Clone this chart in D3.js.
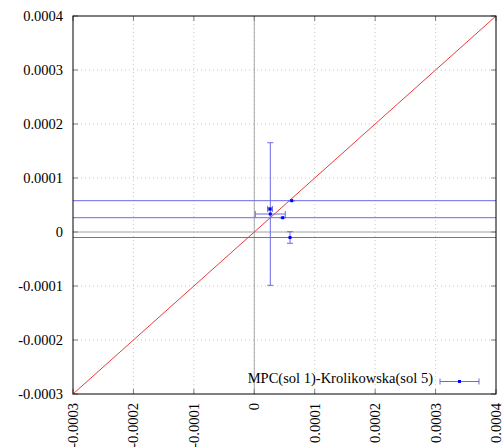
<!DOCTYPE html>
<html>
<head>
<meta charset="utf-8">
<script src="https://cdn.jsdelivr.net/npm/d3@7"></script>
<style>
  body { margin: 0; background: #fff; }
</style>
</head>
<body>
<div id="chart"></div>
<script>
// data
let xVals  = [0.0000619, 0.0000260, 0.0000265, 0.0000470, 0.0000591];
let yVals  = [0.0000580, 0.0000426, 0.0000333, 0.0000265, -0.0000102];
let xErrs  = [0.002, 0.000004, 0.0000248, 0.002, 0.002];
let yErrs  = [0.0000005, 0.000002, 0.000132, 0.0000005, 0.0000107];
let tickVals = [-0.0003, -0.0002, -0.0001, 0, 0.0001, 0.0002, 0.0003, 0.0004];
let tickLabels = ["-0.0003", "-0.0002", "-0.0001", "0", "0.0001", "0.0002", "0.0003", "0.0004"];
let legendLabel = "MPC(sol 1)-Krolikowska(sol 5)";

let width = 503, height = 447;
let plotLeft = 73, plotRight = 496, plotTop = 16, plotBottom = 394;
let fontFam = "'Liberation Serif', 'Times New Roman', Times, serif";
let fontSize = "14.5px";

let svg = d3.select("#chart").append("svg")
            .attr("width", width)
            .attr("height", height)
            .attr("font-family", fontFam);

let x = d3.scaleLinear().domain([-0.0003, 0.0004]).range([plotLeft, plotRight]);
let y = d3.scaleLinear().domain([-0.0003, 0.0004]).range([plotBottom, plotTop]);

svg.append("clipPath").attr("id", "plotClip")
   .append("rect")
   .attr("x", plotLeft).attr("y", plotTop)
   .attr("width", plotRight - plotLeft).attr("height", plotBottom - plotTop);

// dotted grid
let grid = svg.append("g");
grid.selectAll(".gx").data(tickVals.slice(1, -1)).enter().append("line")
    .attr("x1", d => x(d)).attr("x2", d => x(d))
    .attr("y1", plotTop).attr("y2", plotBottom)
    .attr("stroke", "#c8c8c8").attr("stroke-width", 1)
    .attr("stroke-dasharray", "1,3");
grid.selectAll(".gy").data(tickVals.slice(1, -1)).enter().append("line")
    .attr("y1", d => y(d)).attr("y2", d => y(d))
    .attr("x1", plotLeft).attr("x2", plotRight)
    .attr("stroke", "#c8c8c8").attr("stroke-width", 1)
    .attr("stroke-dasharray", "1,3");

// zero axes
svg.append("line")
   .attr("x1", x(0)).attr("x2", x(0)).attr("y1", plotTop).attr("y2", plotBottom)
   .attr("stroke", "#a8a8a8").attr("stroke-width", 1);
svg.append("line")
   .attr("y1", y(0)).attr("y2", y(0)).attr("x1", plotLeft).attr("x2", plotRight)
   .attr("stroke", "#a8a8a8").attr("stroke-width", 1);

// ticks on all four sides, pointing inward
let tickLen = 5;
let ticks = svg.append("g").attr("stroke", "#808080").attr("stroke-width", 1);
tickVals.forEach(t => {
    ticks.append("line").attr("x1", plotLeft).attr("x2", plotLeft + tickLen).attr("y1", y(t)).attr("y2", y(t));
    ticks.append("line").attr("x1", plotRight).attr("x2", plotRight - tickLen).attr("y1", y(t)).attr("y2", y(t));
    ticks.append("line").attr("y1", plotBottom).attr("y2", plotBottom - tickLen).attr("x1", x(t)).attr("x2", x(t));
    ticks.append("line").attr("y1", plotTop).attr("y2", plotTop + tickLen).attr("x1", x(t)).attr("x2", x(t));
});

// tick labels
svg.selectAll(".ylab").data(tickVals).enter().append("text")
   .attr("x", 63).attr("y", d => y(d))
   .attr("text-anchor", "end")
   .attr("dominant-baseline", "central")
   .attr("font-family", fontFam)
   .style("font-size", fontSize)
   .text((d, i) => tickLabels[i]);

svg.selectAll(".xlab").data(tickVals).enter().append("text")
   .attr("transform", d => "translate(" + x(d) + "," + 403 + ") rotate(-90)")
   .attr("text-anchor", "end")
   .attr("dominant-baseline", "central")
   .attr("font-family", fontFam)
   .style("font-size", fontSize)
   .text((d, i) => tickLabels[i]);

let plot = svg.append("g").attr("clip-path", "url(#plotClip)");

// y = x line
plot.append("line")
    .attr("x1", x(-0.0003)).attr("y1", y(-0.0003))
    .attr("x2", x(0.0004)).attr("y2", y(0.0004))
    .attr("stroke", "#e83c3c").attr("stroke-width", 1);

// error bars
let errColor = "#6a6ae8";
let cap = 3;
let points = xVals.map((v, i) => ({x: v, y: yVals[i], dx: xErrs[i], dy: yErrs[i]}));
let bars = plot.append("g").attr("stroke", errColor).attr("stroke-width", 1);
points.forEach(p => {
    let px = x(p.x), py = y(p.y);
    let x0 = x(p.x - p.dx), x1 = x(p.x + p.dx);
    let y0 = y(p.y - p.dy), y1 = y(p.y + p.dy);
    bars.append("line").attr("x1", x0).attr("x2", x1).attr("y1", py).attr("y2", py);
    bars.append("line").attr("x1", x0).attr("x2", x0).attr("y1", py - cap).attr("y2", py + cap);
    bars.append("line").attr("x1", x1).attr("x2", x1).attr("y1", py - cap).attr("y2", py + cap);
    bars.append("line").attr("x1", px).attr("x2", px).attr("y1", y0).attr("y2", y1);
    bars.append("line").attr("x1", px - cap).attr("x2", px + cap).attr("y1", y0).attr("y2", y0);
    bars.append("line").attr("x1", px - cap).attr("x2", px + cap).attr("y1", y1).attr("y2", y1);
});

plot.selectAll(".pt").data(points).enter().append("rect")
    .attr("x", d => x(d.x) - 1.5).attr("y", d => y(d.y) - 1.5)
    .attr("width", 3).attr("height", 3)
    .attr("fill", "#0000ff");

// legend
svg.append("text")
   .attr("x", 433).attr("y", 378)
   .attr("text-anchor", "end")
   .attr("dominant-baseline", "central")
   .attr("font-family", fontFam)
   .style("font-size", fontSize)
   .text(legendLabel);
let lg = svg.append("g").attr("stroke", errColor).attr("stroke-width", 1);
lg.append("line").attr("x1", 440).attr("x2", 479).attr("y1", 381.5).attr("y2", 381.5);
lg.append("line").attr("x1", 440).attr("x2", 440).attr("y1", 378.5).attr("y2", 384.5);
lg.append("line").attr("x1", 479).attr("x2", 479).attr("y1", 378.5).attr("y2", 384.5);
svg.append("rect").attr("x", 458).attr("y", 380).attr("width", 3).attr("height", 3).attr("fill", "#0000ff");

// frame
svg.append("rect")
   .attr("x", plotLeft).attr("y", plotTop)
   .attr("width", plotRight - plotLeft).attr("height", plotBottom - plotTop)
   .attr("fill", "none").attr("stroke", "#000").attr("stroke-width", 1);
</script>
</body>
</html>
